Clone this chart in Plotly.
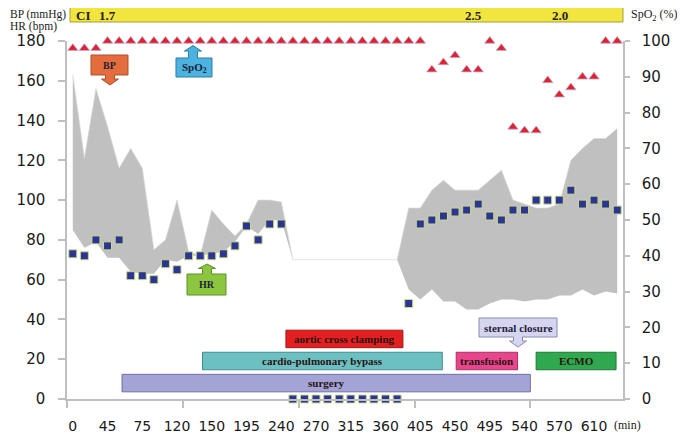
import plotly.graph_objects as go

# time labels shown every third sample
TIME_LABELS = ["0", "45", "75", "120", "150", "195", "240", "270", "315",
               "360", "405", "450", "495", "540", "570", "610"]

HR = [73, 72, 80, 77, 80, 62, 62, 60, 68, 65, 72, 72, 72, 73, 77, 87, 80, 88, 88,
      0, 0, 0, 0, 0, 0, 0, 0, 0, 0,
      48, 88, 90, 92, 94, 95, 98, 92, 90, 95, 95, 100, 100, 100, 105, 98, 100, 98, 95]

SPO2 = [98, 98, 98,
        100, 100, 100, 100, 100, 100, 100, 100, 100, 100, 100, 100, 100, 100,
        100, 100, 100, 100, 100, 100, 100, 100, 100, 100, 100, 100, 100, 100,
        92, 94, 96, 92, 92, 100, 98, 76, 75, 75, 89, 85, 87, 90, 90, 100, 100]

BP_HIGH = [163, 121, 156, 137, 116, 126, 116, 75, 80, 100, 74, 72, 95, 88, 82, 88, 100, 100, 99,
           70, 70, 70, 70, 70, 70, 70, 70, 70, 70,
           96, 96, 105, 110, 105, 105, 105, 110, 115, 100, 98, 96, 96, 98, 120, 126, 131, 131, 136]

BP_LOW = [85, 76, 79, 71, 71, 64, 63, 63, 70, 69, 72, 72, 73, 74, 79, 87, 83, 90, 90,
          70, 70, 70, 70, 70, 70, 70, 70, 70, 70,
          55, 50, 55, 49, 49, 45, 45, 48, 50, 50, 49, 50, 50, 52, 52, 55, 52, 54, 53]

# cardiac index readings (sample position, value)
CI_AT = [3, 34.6, 42.1]
CI_VALUES = ["1.7", "2.5", "2.0"]

# procedure timeline (sample positions)
EVENT_NAMES = ["aortic cross clamping", "cardio-pulmonary bypass", "surgery", "transfusion", "ECMO"]
EVENT_START = [18.4, 11.2, 4.25, 33.1, 40.0]
EVENT_END = [28.5, 31.9, 39.5, 38.4, 46.9]
EVENT_ROW = [2, 1, 0, 1, 1]
EVENT_FILL = ["#e3201f", "#6cc0c2", "#a3a3d6", "#e8468c", "#2fa84f"]
EVENT_EDGE = ["#a01818", "#3f8f90", "#6f6fa8", "#a83060", "#1d7a35"]

# page body keeps an 8px margin, so the figure is sized to end at the window edge
OFF = 8
WIN_W, WIN_H = 685, 434
W, H = WIN_W - OFF, WIN_H - OFF
PL, PR, PT, PB = 67, 623, 41, 399  # plot area in window pixels
GRAY = "#bfbfbf"
SERIF = "Liberation Serif"


def px(x):
    return (x - PL) / (PR - PL)


def py(y):
    return (PB - y) / (PB - PT)


def callout(x0, x1, y0, y1, tx, ty, neck=4.5, head=8.5):
    # box with a block arrow, pixel coords -> paper path
    if ty > y1:
        hb = y1 + (ty - y1) * 0.4
        pts = [(x0, y0), (x1, y0), (x1, y1), (tx + neck, y1), (tx + neck, hb), (tx + head, hb),
               (tx, ty), (tx - head, hb), (tx - neck, hb), (tx - neck, y1), (x0, y1)]
    else:
        hb = y0 - (y0 - ty) * 0.55
        pts = [(x0, y1), (x1, y1), (x1, y0), (tx + neck, y0), (tx + neck, hb), (tx + head, hb),
               (tx, ty), (tx - head, hb), (tx - neck, hb), (tx - neck, y0), (x0, y0)]
    return "M " + " L ".join(f"{px(a):.5f},{py(b):.5f}" for a, b in pts) + " Z"


idx = list(range(len(HR)))
fig = go.Figure()

fig.add_trace(go.Scatter(x=idx, y=BP_LOW, mode="lines", line={"width": 0},
                         showlegend=False, hoverinfo="skip"))
fig.add_trace(go.Scatter(x=idx, y=BP_HIGH, mode="lines", fill="tonexty",
                         fillcolor="#c0c0c1", line={"color": "#d6d6d6", "width": 0.7},
                         showlegend=False, name="BP"))
fig.add_trace(go.Scatter(x=idx, y=HR, mode="markers", cliponaxis=False, name="HR",
                         marker={"symbol": "square", "size": 8, "color": "#2c3592",
                                 "line": {"color": "#c9dc8c", "width": 1}},
                         showlegend=False))
fig.add_trace(go.Scatter(x=idx, y=SPO2, mode="markers", yaxis="y2", cliponaxis=False, name="SpO2",
                         marker={"symbol": "triangle-up", "size": 9, "color": "#e4202a",
                                 "line": {"color": "#b4acd8", "width": 0.8}},
                         showlegend=False))

shapes = []
annotations = []


def label(x, y, text, size, anchor="center", color="#222"):
    annotations.append(dict(x=x, y=y, xref="paper", yref="paper", text=text, showarrow=False,
                            xanchor=anchor, yanchor="middle",
                            font={"family": SERIF, "size": size, "color": color}))


# timeline bars
for name, s, e, row, fc, ec in zip(EVENT_NAMES, EVENT_START, EVENT_END, EVENT_ROW, EVENT_FILL, EVENT_EDGE):
    y0 = 3.6 + 11.1 * row
    shapes.append(dict(type="rect", xref="x", yref="y", x0=s, x1=e, y0=y0, y1=y0 + 8.8,
                       fillcolor=fc, line={"color": ec, "width": 1}))
    annotations.append(dict(x=(s + e) / 2, y=y0 + 4.4, xref="x", yref="y", text=f"<b>{name}</b>",
                            showarrow=False, xanchor="center", yanchor="middle",
                            font={"family": SERIF, "size": 11, "color": "#2a1212"}))

# CI strip above plot
shapes.append(dict(type="rect", xref="paper", yref="paper", x0=px(70), x1=px(623), y0=py(22), y1=py(7),
                   fillcolor="#f1e53e", line={"color": "#a39d45", "width": 1}))
label(px(74), py(15), "<b>CI</b>", 13, anchor="left")
for at, v in zip(CI_AT, CI_VALUES):
    annotations.append(dict(x=at, y=py(15), xref="x", yref="paper", text=f"<b>{v}</b>",
                            showarrow=False, xanchor="center", yanchor="middle",
                            font={"family": SERIF, "size": 13, "color": "#222"}))

# callouts
callouts = [
    ("BP", (91, 128, 55, 75, 110, 85), "#e56c3c", "#a9512d"),
    ("SpO<sub>2</sub>", (176, 212, 58, 77, 193, 45.5), "#4cb2df", "#2f7ea5"),
    ("HR", (187, 226, 274, 295, 207, 264), "#8cc63f", "#5e8f2a"),
    ("sternal closure", (479, 557, 318, 337, 518, 347), "#d5d5ef", "#8a8ab2"),
]
for text, (x0, x1, y0, y1, tx, ty), fc, ec in callouts:
    shapes.append(dict(type="path", xref="paper", yref="paper", path=callout(x0, x1, y0, y1, tx, ty),
                       fillcolor=fc, line={"color": ec, "width": 1}))
    label(px((x0 + x1) / 2), py((y0 + y1) / 2), f"<b>{text}</b>", 11 if len(text) > 8 else 10,
          color="#1e1e3a")

# axis captions
label(px(OFF), py(14), "BP (mmHg)", 11.5, anchor="left")
label(px(OFF), py(26), "HR (bpm)", 11.5, anchor="left")
label(px(629), py(15), "SpO<sub>2</sub> (%)", 12, anchor="left")
label(px(627), py(425), "(min)", 12)

tick_font = {"family": "DejaVu Sans", "size": 15, "color": "#1a1a1a"}

fig.update_layout(
    width=W, height=H,
    margin={"l": PL - OFF, "r": WIN_W - PR, "t": PT - OFF, "b": WIN_H - PB, "pad": 0, "autoexpand": False},
    paper_bgcolor="#ffffff", plot_bgcolor="#ffffff",
    shapes=shapes, annotations=annotations, showlegend=False,
    xaxis={
        "range": [-0.5, 47.5], "tickmode": "array", "automargin": False,
        "tickvals": [3 * i for i in range(len(TIME_LABELS))], "ticktext": TIME_LABELS,
        "ticks": "", "tickfont": {**tick_font, "size": 14}, "ticklabelstandoff": 13,
        "showline": True, "linecolor": GRAY, "linewidth": 1.5,
        "showgrid": False, "zeroline": False,
        "minor": {"tickmode": "linear", "tick0": -0.5, "dtick": 10, "ticks": "outside",
                  "ticklen": 7, "tickcolor": GRAY, "tickwidth": 1.5, "showgrid": False},
    },
    yaxis={
        "range": [0, 180], "dtick": 20, "ticks": "outside", "ticklen": 7, "tickcolor": GRAY,
        "tickwidth": 1.5, "tickfont": tick_font, "ticklabelstandoff": 10, "automargin": False,
        "showline": True, "linecolor": GRAY, "linewidth": 1.5,
        "showgrid": False, "zeroline": False,
    },
    yaxis2={
        "range": [0, 100], "dtick": 10, "overlaying": "y", "side": "right", "automargin": False,
        "ticks": "outside", "ticklen": 5, "tickcolor": GRAY, "tickwidth": 1.5,
        "tickfont": tick_font, "ticklabelstandoff": 9,
        "showline": True, "linecolor": GRAY, "linewidth": 1.5,
        "showgrid": False, "zeroline": False,
    },
)

fig.write_html("out.html")
